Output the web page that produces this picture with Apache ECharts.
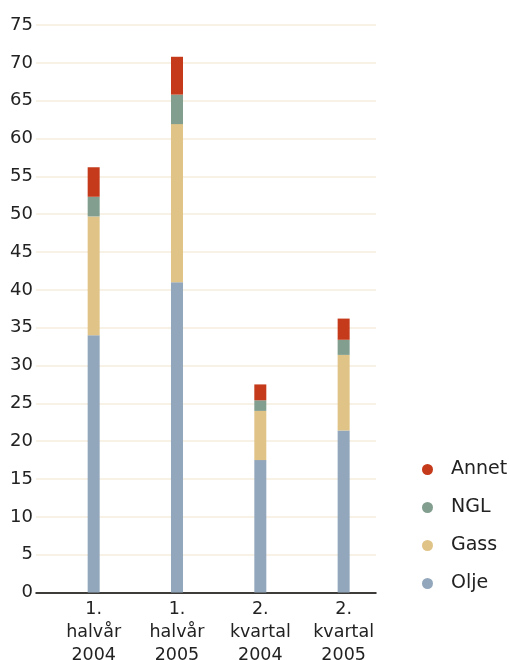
<!DOCTYPE html>
<html>
<head>
<meta charset="utf-8">
<style>html,body{margin:0;padding:0;background:#fff;}#c{width:510px;height:660px;}</style>
<script src="https://cdn.jsdelivr.net/npm/echarts@6/dist/echarts.min.js"></script>
</head>
<body>
<div id="c"></div>
<script>
var categories = ["1.\nhalvår\n2004", "1.\nhalvår\n2005", "2.\nkvartal\n2004", "2.\nkvartal\n2005"];
var olje = [34.0, 41.0, 17.5, 21.4];
var gass = [15.7, 20.9, 6.5, 10.0];
var ngl = [2.6, 3.9, 1.4, 2.0];
var annet = [3.9, 5.0, 2.1, 2.8];

var chart = echarts.init(document.getElementById('c'));
var font = "'DejaVu Sans', Verdana, sans-serif";
function s(name, data, color) {
  return {name: name, type: 'bar', stack: 'a', data: data, barWidth: 12,
    xAxisIndex: 1, yAxisIndex: 1,
    itemStyle: {color: color}, emphasis: {disabled: true}};
}
chart.setOption({
  animation: false,
  textStyle: {fontFamily: font},
  grid: [
    {left: 36, right: 134, top: 25, bottom: 67.5, containLabel: false, outerBoundsMode: 'none'},
    {left: 52, right: 124.7, top: 25, bottom: 67.5, containLabel: false, outerBoundsMode: 'none'}
  ],
  legend: {
    orient: 'vertical', left: 417, top: 455, itemGap: 19,
    icon: 'circle', itemWidth: 11, itemHeight: 11,
    data: ['Annet', 'NGL', 'Gass', 'Olje'],
    textStyle: {fontFamily: font, fontSize: 19, color: '#222', padding: [0, 0, 0, 13]}
  },
  xAxis: [
    {
      gridIndex: 0, type: 'category', data: categories,
      axisLine: {lineStyle: {color: '#000', width: 1.5}},
      axisTick: {show: false}, axisLabel: {show: false}, splitLine: {show: false}
    },
    {
      gridIndex: 1, type: 'category', data: categories,
      axisLine: {show: false}, axisTick: {show: false},
      axisLabel: {fontFamily: font, fontSize: 17.5, color: '#222', lineHeight: 23, margin: 5}
    }
  ],
  yAxis: [
    {
      gridIndex: 0, type: 'value', min: 0, max: 75, interval: 5,
      axisLine: {show: false}, axisTick: {show: false},
      axisLabel: {fontFamily: font, fontSize: 18, color: '#222', margin: 3},
      splitLine: {lineStyle: {color: '#f6ecdc', width: 1.5}}
    },
    {
      gridIndex: 1, type: 'value', min: 0, max: 75, interval: 5, show: false,
      splitLine: {show: false}
    }
  ],
  series: [
    s('Olje', olje, '#92a7bc'),
    s('Gass', gass, '#e0c487'),
    s('NGL', ngl, '#829e8f'),
    s('Annet', annet, '#c43a1a')
  ]
});
</script>
</body>
</html>
